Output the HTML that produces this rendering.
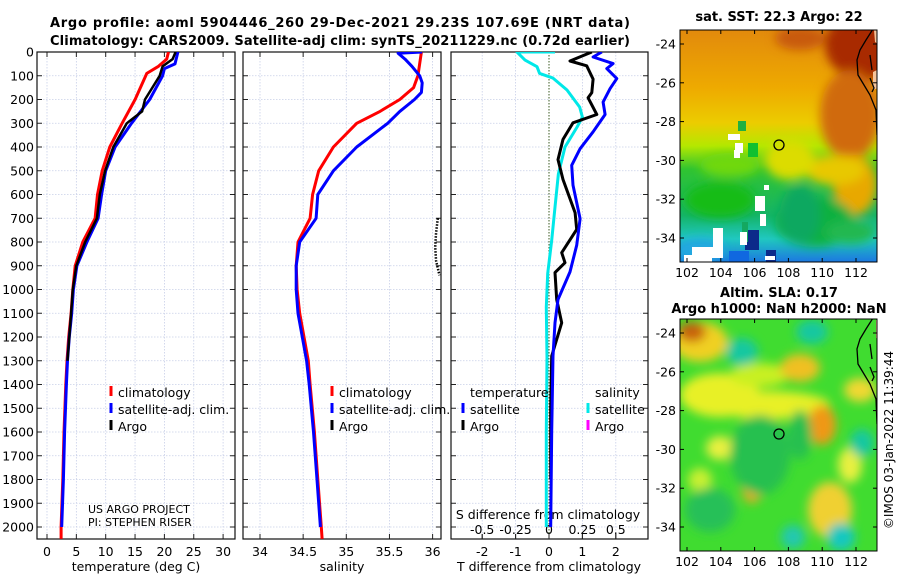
<!DOCTYPE html>
<html><head><meta charset="utf-8">
<style>
html,body{margin:0;padding:0;background:#fff;}
svg text{font-family:"DejaVu Sans","Liberation Sans",sans-serif;}
</style></head>
<body>
<svg id="fig" width="900" height="580" viewBox="0 0 900 580" xmlns="http://www.w3.org/2000/svg">
<defs>
  <filter id="blur6" x="-50%" y="-50%" width="200%" height="200%"><feGaussianBlur stdDeviation="5"/></filter>
  <linearGradient id="sstg" x1="0" y1="0" x2="0" y2="1">
    <stop offset="0" stop-color="#e28a0c"/>
    <stop offset="0.25" stop-color="#eeaa00"/>
    <stop offset="0.4" stop-color="#eccc00"/>
    <stop offset="0.5" stop-color="#b4e800"/>
    <stop offset="0.6" stop-color="#30c430"/>
    <stop offset="0.8" stop-color="#14b468"/>
    <stop offset="0.9" stop-color="#20c8c0"/>
    <stop offset="1" stop-color="#1c78e0"/>
  </linearGradient>
  <clipPath id="clipSST"><rect x="680" y="30" width="197" height="232"/></clipPath>
  <clipPath id="clipSLA"><rect x="680" y="319" width="197" height="232"/></clipPath>
  <clipPath id="clipP1"><rect x="37" y="52" width="198" height="487"/></clipPath>
  <clipPath id="clipP2"><rect x="243" y="52" width="198" height="487"/></clipPath>
  <clipPath id="clipP3"><rect x="451" y="52" width="197" height="487"/></clipPath>
</defs>

<text x="340" y="27" text-anchor="middle" font-weight="bold" font-size="13" textLength="580">Argo profile: aoml 5904446_260 29-Dec-2021 29.23S 107.69E (NRT data)</text>
<text x="340" y="45" text-anchor="middle" font-weight="bold" font-size="13" textLength="580">Climatology: CARS2009. Satellite-adj clim: synTS_20211229.nc (0.72d earlier)</text>

<g id="panels"></g>

<!-- SST map -->
<g>
  <text x="779" y="21" text-anchor="middle" font-weight="bold" font-size="13">sat. SST: 22.3 Argo: 22</text>
  <g clip-path="url(#clipSST)">
    <rect x="680" y="30" width="197" height="232" fill="url(#sstg)"/>
    <g filter="url(#blur6)">
      <ellipse cx="865" cy="45" rx="40" ry="35" fill="#a82a04"/>
      <ellipse cx="800" cy="38" rx="25" ry="12" fill="#c85a08"/>
      <ellipse cx="850" cy="115" rx="30" ry="45" fill="#d06a08"/>
      <ellipse cx="855" cy="185" rx="22" ry="30" fill="#e8a800"/>
      <ellipse cx="835" cy="170" rx="30" ry="15" fill="#e8c800"/>
      <ellipse cx="790" cy="160" rx="25" ry="20" fill="#dcdc00"/>
      <ellipse cx="815" cy="222" rx="40" ry="25" fill="#10b040"/>
      <ellipse cx="850" cy="232" rx="25" ry="12" fill="#20b850"/>
      <ellipse cx="800" cy="215" rx="20" ry="30" fill="#10a860"/>
      <ellipse cx="720" cy="200" rx="35" ry="18" fill="#18bc18"/>
      <ellipse cx="730" cy="165" rx="30" ry="12" fill="#70d810"/>
      <ellipse cx="700" cy="250" rx="25" ry="12" fill="#20a8e0"/>
    </g>
    <rect x="745" y="230" width="14" height="20" fill="#0c2a8a"/>
    <rect x="766" y="250" width="10" height="16" fill="#0c2a8a"/>
    <rect x="742" y="222" width="6" height="20" fill="#14a860"/>
    <path d="M684 262 L684 255 L692 255 L692 247 L713 247 L713 228 L723 228 L723 258 L712 258 L712 262 Z" fill="#fff"/>
    <rect x="729" y="251" width="20" height="11" fill="#1068e0"/>
    <rect x="740" y="232" width="7" height="13" fill="#fff"/>
    <rect x="755" y="196" width="10" height="15" fill="#fff"/>
    <rect x="760" y="214" width="6" height="12" fill="#fff"/>
    <rect x="728" y="134" width="12" height="6" fill="#fff"/>
    <rect x="735" y="143" width="8" height="10" fill="#fff"/>
    <rect x="734" y="150" width="6" height="8" fill="#fff"/>
    <rect x="764" y="185" width="5" height="5" fill="#fff"/>
    <rect x="765" y="256" width="10" height="4" fill="#fff"/>
    <rect x="738" y="121" width="8" height="10" fill="#20b040"/>
    <rect x="748" y="143" width="10" height="14" fill="#10c030"/>
    <path d="M874 30 L880 28 L880 45 L875 42 Z" fill="#f6c49a"/>
    <path d="M873 72 L877 70 L878 88 L873 90 Z" fill="#f6c49a"/>
    <path d="M873 29 L866 40 L860 50 L857 60 L858 75 L864 85 L870 95 L876 110 L877 135" fill="none" stroke="#000" stroke-width="1.3"/>
    <path d="M870 55 L872 70 M870 78 L874 88 L872 92" fill="none" stroke="#000" stroke-width="1.3"/>
  </g>
  <circle cx="779" cy="145" r="5" fill="none" stroke="#000" stroke-width="1.3"/>
  <rect x="680" y="30" width="197" height="232" fill="none" stroke="#000" stroke-width="1"/>
  <g id="sstTicks"></g>
</g>

<!-- SLA map -->
<g>
  <text x="779" y="297" text-anchor="middle" font-weight="bold" font-size="13">Altim. SLA: 0.17</text>
  <text x="779" y="313" text-anchor="middle" font-weight="bold" font-size="13">Argo h1000: NaN h2000: NaN</text>
  <g clip-path="url(#clipSLA)">
    <rect x="680" y="319" width="197" height="232" fill="#40dc30"/>
    <g filter="url(#blur6)">
      <ellipse cx="700" cy="342" rx="28" ry="20" fill="#f0d020"/>
      <ellipse cx="692" cy="332" rx="14" ry="10" fill="#c86010"/>
      <ellipse cx="720" cy="395" rx="40" ry="22" fill="#e8f028"/>
      <ellipse cx="770" cy="405" rx="60" ry="14" fill="#e8f028"/>
      <ellipse cx="760" cy="375" rx="30" ry="12" fill="#c8f020"/>
      <ellipse cx="800" cy="368" rx="20" ry="14" fill="#f0c020"/>
      <ellipse cx="822" cy="425" rx="14" ry="20" fill="#f09818"/>
      <ellipse cx="860" cy="390" rx="16" ry="12" fill="#f0d830"/>
      <ellipse cx="752" cy="488" rx="10" ry="15" fill="#f0a820"/>
      <ellipse cx="720" cy="448" rx="14" ry="12" fill="#e8f040"/>
      <ellipse cx="830" cy="510" rx="22" ry="28" fill="#f0d030"/>
      <ellipse cx="850" cy="465" rx="12" ry="18" fill="#e8f040"/>
      <ellipse cx="700" cy="480" rx="12" ry="12" fill="#c8f030"/>
      <ellipse cx="742" cy="352" rx="16" ry="14" fill="#18c8a0"/>
      <ellipse cx="812" cy="332" rx="16" ry="12" fill="#18c8a0"/>
      <ellipse cx="862" cy="443" rx="12" ry="14" fill="#18c8a0"/>
      <ellipse cx="841" cy="537" rx="14" ry="14" fill="#18c8c0"/>
      <ellipse cx="793" cy="537" rx="12" ry="12" fill="#20c8b0"/>
      <ellipse cx="760" cy="455" rx="30" ry="40" fill="#28c050"/>
      <ellipse cx="710" cy="510" rx="25" ry="22" fill="#28c058"/>
      <ellipse cx="800" cy="435" rx="12" ry="25" fill="#28c050"/>
    </g>
    <path d="M876 320 L880 320 L880 340 L876 338 Z" fill="#f6c49a"/>
    <path d="M873 318 L866 329 L860 339 L857 349 L858 364 L864 374 L870 384 L876 399 L877 424" fill="none" stroke="#000" stroke-width="1.3"/>
    <path d="M870 344 L872 359 M870 367 L874 377 L872 381" fill="none" stroke="#000" stroke-width="1.3"/>
  </g>
  <circle cx="779" cy="434" r="5" fill="none" stroke="#000" stroke-width="1.3"/>
  <rect x="680" y="319" width="197" height="232" fill="none" stroke="#000" stroke-width="1"/>
  <g id="slaTicks"></g>
</g>
<text transform="translate(893,440) rotate(-90)" text-anchor="middle" font-size="12">©IMOS 03-Jan-2022 11:39:44</text>
</svg>

<script>
// ---------- data ----------
const depthTicks = [0,100,200,300,400,500,600,700,800,900,1000,1100,1200,1300,1400,1500,1600,1700,1800,1900,2000];
const tempTicks = [0,5,10,15,20,25,30];
const salTicks = [34,34.5,35,35.5,36];
const salTickLabels = ["34","34.5","35","35.5","36"];
const dTTicks = [-2,-1,0,1,2];
const dSTicks = [-0.5,-0.25,0,0.25,0.5];
const dSTickLabels = ["-0.5","-0.25","0","0.25","0.5"];

const tClimDepth = [0,30,60,90,200,300,400,500,600,700,800,900,1000,1100,1200,1300,1400,1600,1800,2000,2050];
const tClimVal   = [20.7,20.4,19,17,15,12.8,10.7,9.4,8.6,8.2,6.1,4.8,4.4,4.1,3.7,3.4,3.2,2.9,2.7,2.4,2.4];
const tSatDepth  = [0,50,70,100,200,300,400,500,600,700,800,900,1000,1100,1200,1300,1400,1600,1800,2000];
const tSatVal    = [22.3,21.8,20,19.7,17.5,14.4,11.6,10.0,9.3,8.7,6.8,5.1,4.5,4.2,3.8,3.5,3.3,3.0,2.8,2.5];
const tArgoDepth = [0,30,60,100,200,250,300,400,500,600,700,800,900,1000,1100,1200,1300];
const tArgoVal   = [21.9,21.4,19.7,19.2,16.7,16.2,13.6,11.3,9.9,9.0,8.5,6.5,5.0,4.4,4.1,3.8,3.5];

const sClimDepth = [0,100,150,200,250,300,400,500,600,700,800,900,1000,1100,1200,1300,1400,1600,1800,2000,2050];
const sClimVal   = [35.87,35.83,35.78,35.62,35.39,35.12,34.85,34.68,34.61,34.58,34.44,34.42,34.43,34.46,34.51,34.56,34.58,34.63,34.67,34.71,34.72];
const sSatDepth  = [0,5,30,60,100,130,170,200,250,300,400,500,600,700,800,900,1000,1100,1200,1300,1400,1600,1800,2000];
const sSatVal    = [35.88,35.6,35.68,35.76,35.85,35.88,35.87,35.79,35.62,35.48,35.12,34.85,34.67,34.65,34.46,34.42,34.42,34.44,34.49,34.54,34.57,34.62,34.66,34.70];
const sArgoDepth = [700,760,820,880,940];
const sArgoVal   = [36.06,36.04,36.03,36.04,36.08];

const dSSatDepth = [0,0,34,62,90,110,160,232,274,316,400,513,653,793,933,1074,1285,1600,2000];
const dSSatVal   = [0.045,-0.24,-0.18,-0.09,-0.07,0.03,0.135,0.23,0.25,0.21,0.12,0.07,0.045,0.02,-0.01,-0.02,-0.015,-0.02,-0.02];
const dTArgoDepth = [0,38,58,114,171,193,263,298,368,453,537,677,747,845,887,929,1042,1140,1280,1500,1800];
const dTArgoVal   = [1.28,0.63,1.13,1.32,1.28,1.17,1.43,0.72,0.42,0.27,0.42,0.78,0.83,0.38,0.48,0.18,0.23,0.38,0.08,0.05,0.05];
const dTSatDepth = [0,21,49,70,112,154,211,263,336,407,477,561,702,814,926,1042,1140,1280,1600,2000];
const dTSatVal   = [1.58,1.32,1.92,1.73,2.03,1.83,1.62,1.68,1.32,0.93,0.68,0.72,0.93,0.83,0.63,0.27,0.18,0.12,0.08,0.05];

const lonTicks = [102,104,106,108,110,112];
const latTicks = [-24,-26,-28,-30,-32,-34];

// ---------- scales ----------
const yD = d => 52 + d*0.2375;
const xT = t => 47 + t*5.87;
const xS = s => 260 + (s-34)*86.3;
const xDT = t => 549 + t*33.4;
const xDS = s => 549 + s*133.6;
const xLon = l => 687 + (l-102)*16.9;
const yLatA = l => 44 + (-24-l)*19.4;
const yLatB = l => 333 + (-24-l)*19.4;

const NS = 'http://www.w3.org/2000/svg';
const fig = document.getElementById('panels');
function mk(tag, attrs, parent){ const e=document.createElementNS(NS,tag); for(const k in attrs) e.setAttribute(k,attrs[k]); (parent||fig).appendChild(e); return e; }
function txt(x,y,s,size,anchor,parent){ const e=mk('text',{x:x,y:y,'font-size':size||12,'text-anchor':anchor||'middle'},parent); e.textContent=s; return e; }

const panels = [
  {x0:37,x1:235,clip:'clipP1',name:'temperature-panel'},
  {x0:243,x1:441,clip:'clipP2',name:'salinity-panel'},
  {x0:451,x1:648,clip:'clipP3',name:'difference-panel'}
];
const Y0=52, Y1=539;

panels.forEach((p,i)=>{
  const g = mk('g',{});
  
  
  depthTicks.forEach(d=>{
    mk('line',{x1:p.x0,x2:p.x1,y1:yD(d),y2:yD(d),stroke:'#c8cfe8','stroke-width':0.8,'stroke-dasharray':'1.5,1.5'},g);
  });
  let xt = i===0? tempTicks.map(xT) : i===1? salTicks.map(xS) : dTTicks.map(xDT);
  xt.forEach(x=>{
    mk('line',{x1:x,x2:x,y1:Y0,y2:Y1,stroke:'#c8cfe8','stroke-width':0.8,'stroke-dasharray':'1.5,1.5'},g);
  });
  depthTicks.forEach(d=>{
    mk('line',{x1:p.x0,x2:p.x0+5,y1:yD(d),y2:yD(d),stroke:'#222','stroke-width':1},g);
    mk('line',{x1:p.x1-5,x2:p.x1,y1:yD(d),y2:yD(d),stroke:'#222','stroke-width':1},g);
  });
  xt.forEach(x=>{
    mk('line',{x1:x,x2:x,y1:Y1,y2:Y1-5,stroke:'#222','stroke-width':1},g);
    if(i<2) mk('line',{x1:x,x2:x,y1:Y0,y2:Y0+5,stroke:'#222','stroke-width':1},g);
  });
  p.g=g;
});

const yl = mk('g',{});


depthTicks.forEach(d=>{ txt(34, yD(d)+4.5, String(d), 12.5, 'end', yl); });

const xl1 = mk('g',{});


tempTicks.forEach(t=>txt(xT(t),556,String(t),12.5,'middle',xl1));
txt(136,571,'temperature (deg C)',12.5,'middle',xl1);
const xl2 = mk('g',{});


salTicks.forEach((s,k)=>txt(xS(s),556,salTickLabels[k],12.5,'middle',xl2));
txt(342,571,'salinity',12.5,'middle',xl2);
const xl3 = mk('g',{});


dTTicks.forEach(t=>txt(xDT(t),556,String(t),12.5,'middle',xl3));
txt(549,571,'T difference from climatology',12.5,'middle',xl3);
const xl4 = mk('g',{});


dSTicks.forEach((s,k)=>{ txt(xDS(s),534,dSTickLabels[k],12.5,'middle',xl4); mk('line',{x1:xDS(s),x2:xDS(s),y1:Y1,y2:Y1-5,stroke:'#222'},xl4); });
txt(548,519,'S difference from climatology',12.5,'middle',xl4);

mk('line',{x1:xDT(0),x2:xDT(0),y1:Y0,y2:Y1,stroke:'#3a5a20','stroke-width':1,'stroke-dasharray':'1.5,1.5'},panels[2].g);

function series(depths, vals, xf, color, clip, name, w, dash){
  const pts = depths.map((d,k)=>xf(vals[k]).toFixed(1)+','+yD(d).toFixed(1)).join(' ');
  const e = mk('polyline',{points:pts,fill:'none',stroke:color,'stroke-width':w||3,'stroke-linejoin':'round','clip-path':'url(#'+clip+')'});
  if(dash) e.setAttribute('stroke-dasharray',dash);
  
  
  return e;
}
series(tClimDepth,tClimVal,xT,'#ff0000','clipP1','temp-climatology-line');
series(tSatDepth,tSatVal,xT,'#0000ff','clipP1','temp-satellite-line');
series(tArgoDepth,tArgoVal,xT,'#000000','clipP1','temp-argo-line',2.5);
series(sClimDepth,sClimVal,xS,'#ff0000','clipP2','sal-climatology-line');
series(sSatDepth,sSatVal,xS,'#0000ff','clipP2','sal-satellite-line');
series(sArgoDepth,sArgoVal,xS,'#000000','clipP2','sal-argo-line',2.5,'1.5,1.5');
series(dSSatDepth,dSSatVal,xDS,'#00e8e8','clipP3','sdiff-satellite-line');
series(dTArgoDepth,dTArgoVal,xDT,'#000000','clipP3','tdiff-argo-line');
series(dTSatDepth,dTSatVal,xDT,'#0000ff','clipP3','tdiff-satellite-line');

panels.forEach(p=>{ mk('rect',{x:p.x0,y:Y0,width:p.x1-p.x0,height:Y1-Y0,fill:'none',stroke:'#111','stroke-width':1.2},p.g); });

function legItem(x,y,color,label,name){
  const g = mk('g',{});
  
  
  mk('line',{x1:x,x2:x,y1:y-11,y2:y-1,stroke:color,'stroke-width':3},g);
  txt(x+7,y,label,12.5,'start',g);
}
legItem(111,397,'#ff0000','climatology','legend-temp-climatology');
legItem(111,414,'#0000ff','satellite-adj. clim.','legend-temp-satellite');
legItem(111,431,'#000000','Argo','legend-temp-argo');
legItem(332,397,'#ff0000','climatology','legend-sal-climatology');
legItem(332,414,'#0000ff','satellite-adj. clim.','legend-sal-satellite');
legItem(332,431,'#000000','Argo','legend-sal-argo');
txt(470,397,'temperature',12.5,'start');
txt(595,397,'salinity',12.5,'start');
legItem(463,414,'#0000ff','satellite','legend-tdiff-satellite');
legItem(463,431,'#000000','Argo','legend-tdiff-argo');
legItem(588,414,'#00e8e8','satellite','legend-sdiff-satellite');
legItem(588,431,'#ff00ff','Argo','legend-sdiff-argo');

const cred = mk('g',{});


txt(88,513,'US ARGO PROJECT',11,'start',cred);
txt(88,526,'PI: STEPHEN RISER',11,'start',cred);

function mapTicks(gid, yLat, top, bot){
  const g=document.getElementById(gid);
  lonTicks.forEach(l=>{ const x=xLon(l);
    mk('line',{x1:x,x2:x,y1:bot,y2:bot-4,stroke:'#000'},g);
    mk('line',{x1:x,x2:x,y1:top,y2:top+4,stroke:'#000'},g);
    txt(x,bot+15,String(l),12.5,'middle',g); });
  latTicks.forEach(l=>{ const y=yLat(l);
    mk('line',{x1:680,x2:684,y1:y,y2:y,stroke:'#000'},g);
    mk('line',{x1:873,x2:877,y1:y,y2:y,stroke:'#000'},g);
    txt(676,y+4.5,String(l),12.5,'end',g); });
}
mapTicks('sstTicks',yLatA,30,262);
mapTicks('slaTicks',yLatB,319,551);
</script>
</body></html>
